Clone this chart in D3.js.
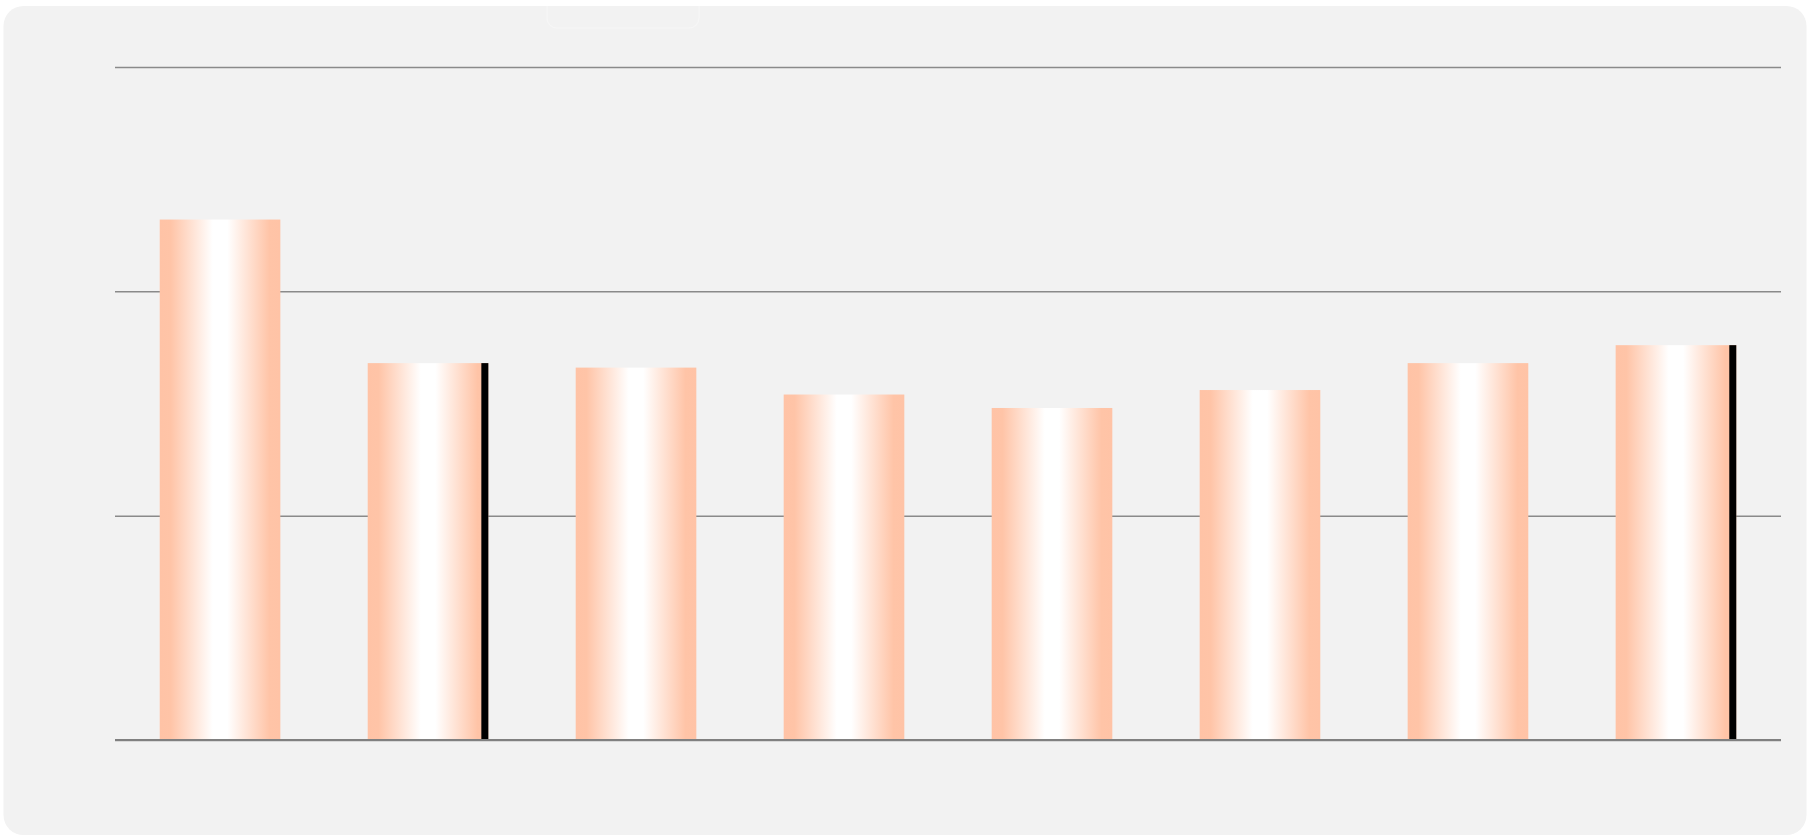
<!DOCTYPE html>
<html>
<head>
<meta charset="utf-8">
<script src="https://cdn.jsdelivr.net/npm/d3@7"></script>
<style>
  html, body {margin: 0; padding: 0; background: #fff;}
  svg {display: block;}
  .grid line {stroke: #8a8a8a; stroke-width: 1.5;}
  .grid path {display: none;}
</style>
</head>
<body>
<script>
const categories = ['A', 'B', 'C', 'D', 'E', 'F', 'G', 'H']
const values = [232, 168, 166, 154, 148, 156, 168, 176]
const highlighted = ['B', 'H']
const yTicks = [0, 100, 200, 300]

const data = categories.map((c, i) => ({ key: c, value: values[i] }))

const svgWidth = 1809
const svgHeight = 837
const margin = {top: 67, right: 28, bottom: 97, left: 115}

const svg = d3.select('body').append('svg')
  .attr('width', svgWidth).attr('height', svgHeight)

const defs = svg.append('defs')
defs.append('clipPath').attr('id', 'panelClip')
  .append('rect')
  .attr('x', 3.5).attr('y', 6)
  .attr('width', 1803).attr('height', 829)
  .attr('rx', 20)

// panel
svg.append('rect')
  .attr('x', 3.5).attr('y', 6)
  .attr('width', 1803).attr('height', 829)
  .attr('rx', 20)
  .attr('fill', '#f2f2f2')

// faint legend frame at top
svg.append('rect')
  .attr('clip-path', 'url(#panelClip)')
  .attr('x', 547).attr('y', -12)
  .attr('width', 152).attr('height', 40)
  .attr('rx', 10)
  .attr('fill', 'none')
  .attr('stroke', '#f6f6f6')
  .attr('stroke-width', 1.2)

const grad = defs.append('linearGradient')
  .attr('id', 'barGrad')
  .attr('x1', '0%').attr('x2', '100%').attr('y1', '0%').attr('y2', '0%')
grad.append('stop').attr('offset', '0%').attr('stop-color', '#ffc3a6')
grad.append('stop').attr('offset', '9%').attr('stop-color', '#ffc4a7')
grad.append('stop').attr('offset', '44%').attr('stop-color', '#ffffff')
grad.append('stop').attr('offset', '56%').attr('stop-color', '#ffffff')
grad.append('stop').attr('offset', '91%').attr('stop-color', '#ffc4a7')
grad.append('stop').attr('offset', '100%').attr('stop-color', '#ffc3a6')

const width = svgWidth - margin.left - margin.right
const height = svgHeight - margin.top - margin.bottom
const g = svg.append('g')
  .attr('transform', `translate(${margin.left},${margin.top})`)

const x = d3.scaleBand()
  .range([0, width]).domain(categories)
  .paddingInner(0.42).paddingOuter(0.215)
const y = d3.scaleLinear().domain([0, 300]).range([height, 0])

// gridlines
g.append('g').attr('class', 'grid')
  .call(d3.axisLeft(y).tickValues(yTicks).tickSize(-width).tickFormat(''))

// bars
g.append('g').selectAll('.bar').data(data).enter().append('rect')
  .attr('class', 'bar')
  .attr('x', d => x(d.key))
  .attr('width', x.bandwidth())
  .attr('y', d => y(d.value))
  .attr('height', d => height - y(d.value))
  .attr('fill', 'url(#barGrad)')

// highlight strips
g.append('g').selectAll('.mark').data(data.filter(d => highlighted.includes(d.key))).enter().append('rect')
  .attr('class', 'mark')
  .attr('x', d => x(d.key) + x.bandwidth() - 7)
  .attr('width', 7)
  .attr('y', d => y(d.value))
  .attr('height', d => height - y(d.value))
  .attr('fill', '#000')

// baseline
g.append('line')
  .attr('x1', 0).attr('x2', width)
  .attr('y1', y(0)).attr('y2', y(0))
  .attr('stroke', '#808080').attr('stroke-width', 2.2)
</script>
</body>
</html>
